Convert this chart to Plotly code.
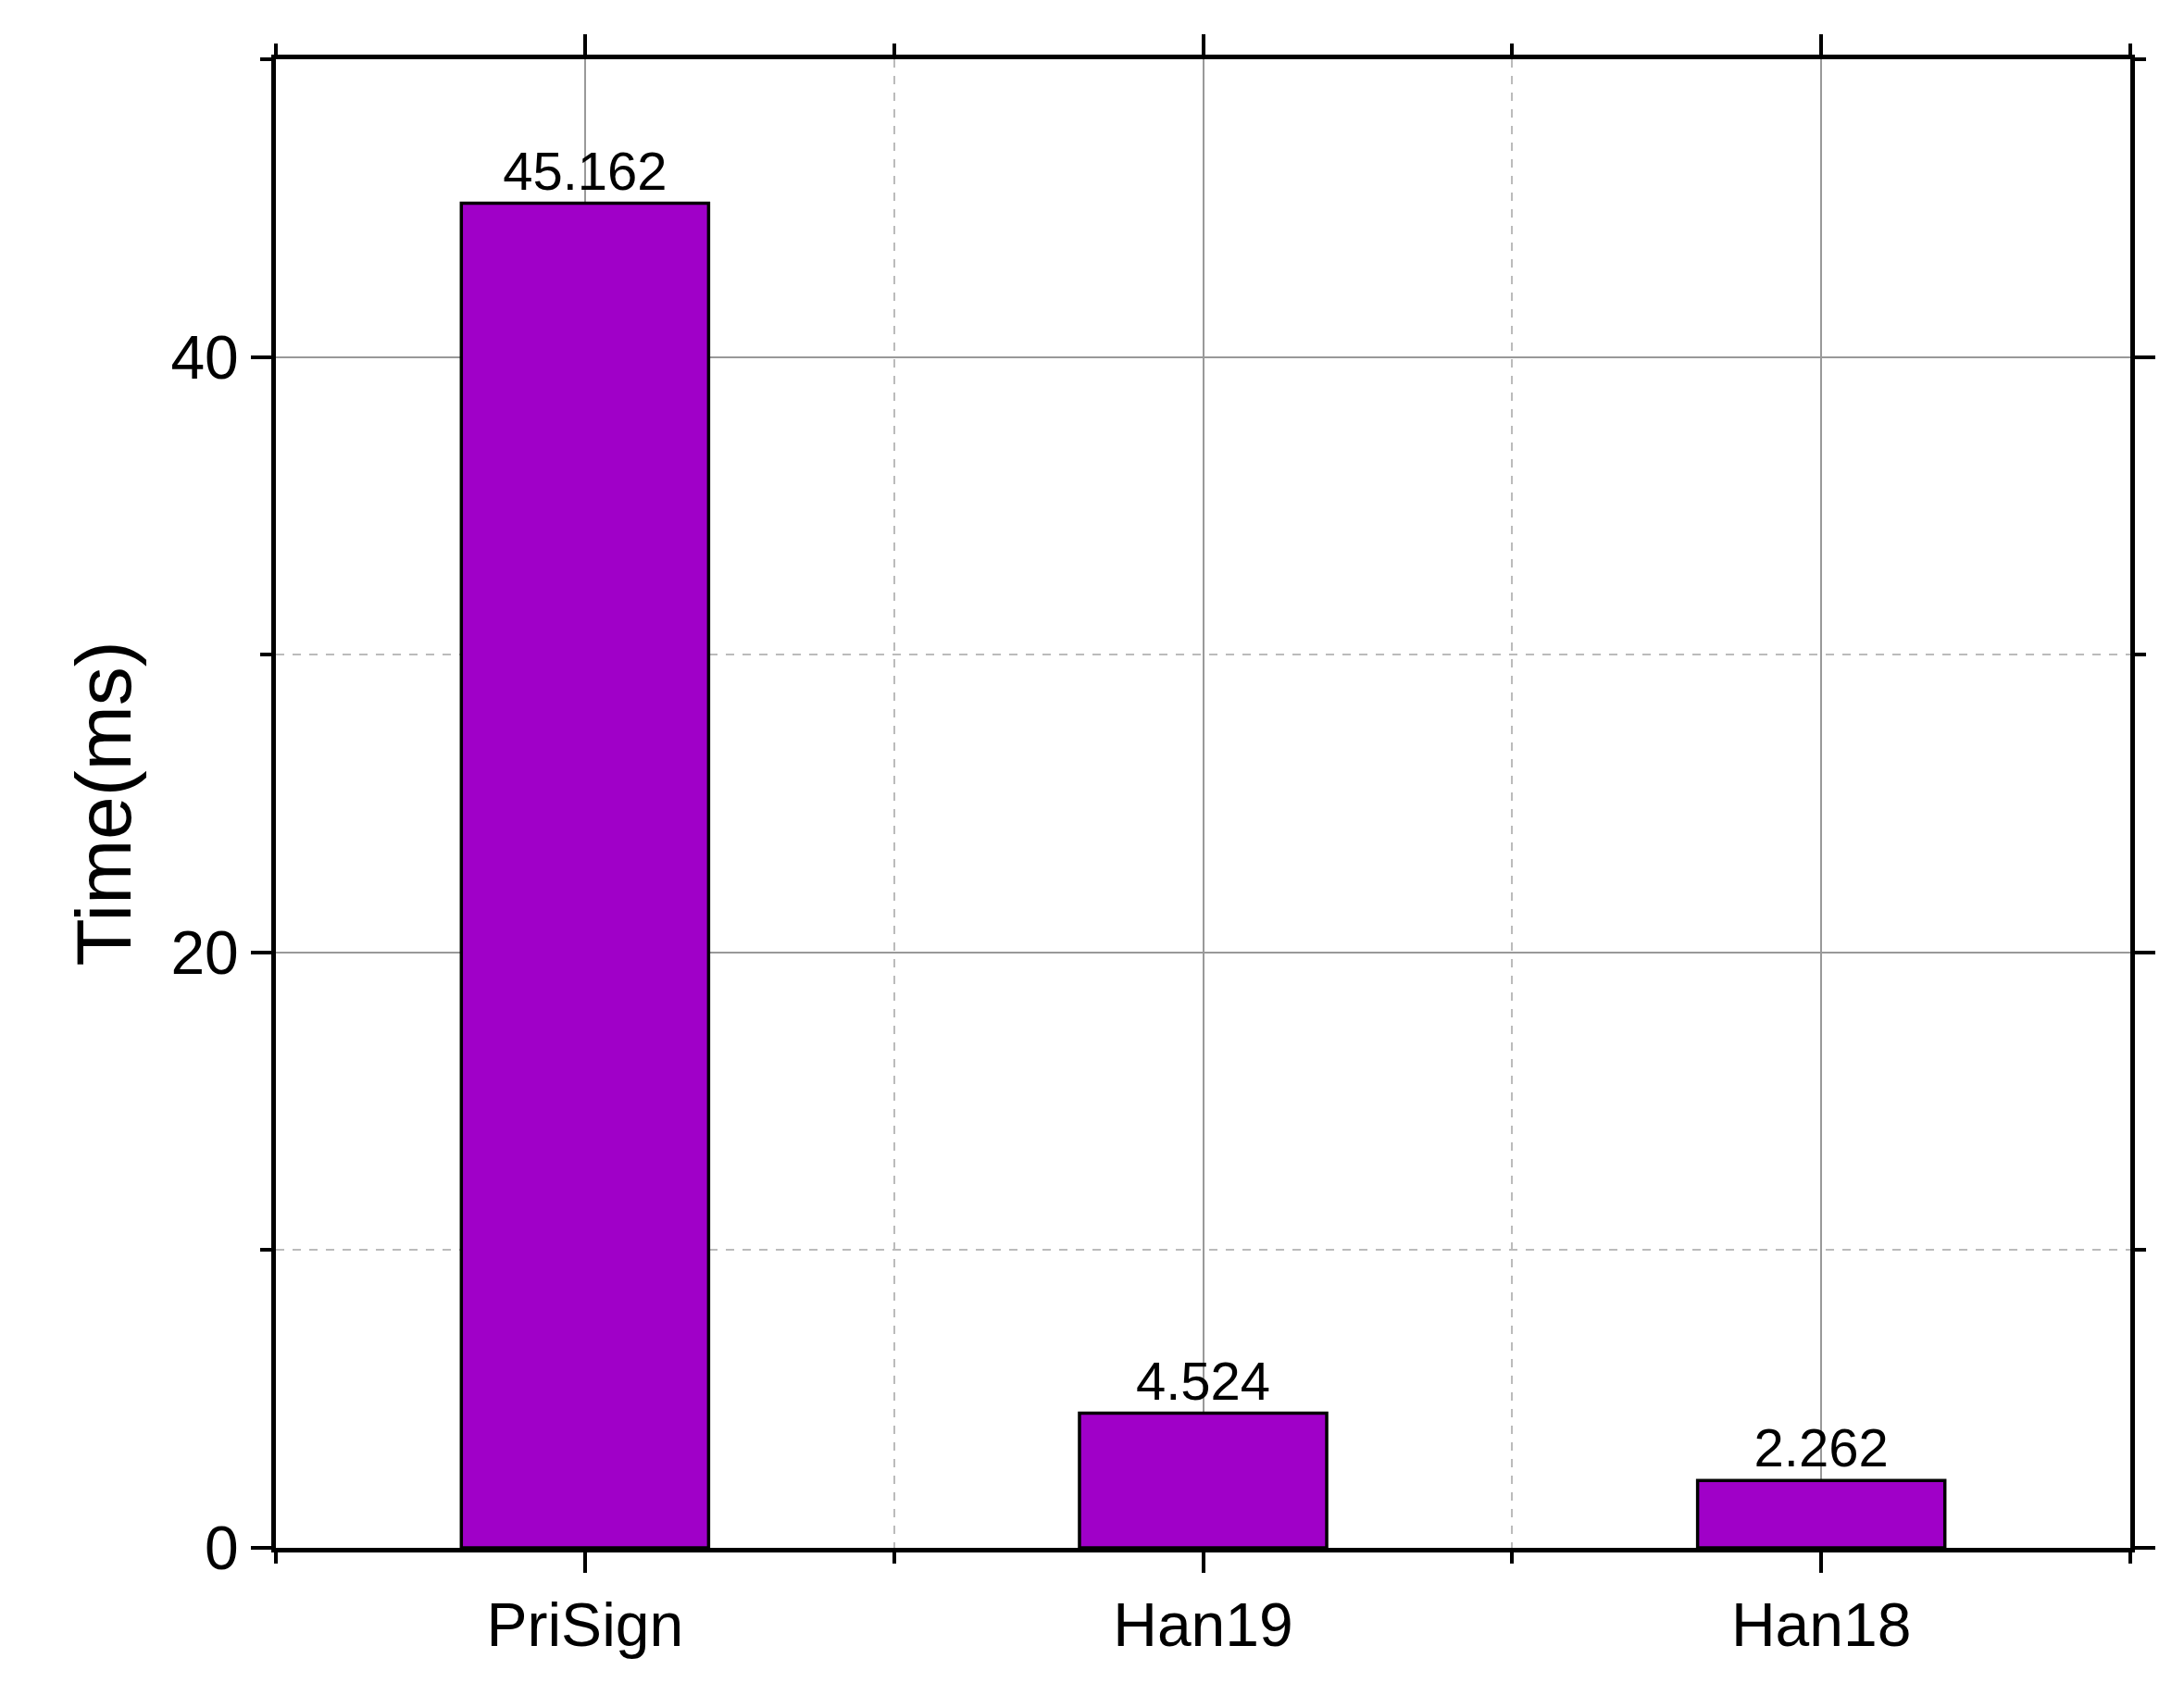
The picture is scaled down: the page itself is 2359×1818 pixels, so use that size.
import plotly.graph_objects as go

categories = ["PriSign", "Han19", "Han18"]
values = [45.162, 4.524, 2.262]
labels = ["45.162", "4.524", "2.262"]

xs = list(range(len(categories)))
fig = go.Figure(go.Bar(
    x=xs, y=values, width=0.4,
    marker=dict(color="#A000C8", line=dict(color="black", width=3.5)),
    text=labels, textposition="outside", cliponaxis=False,
    textfont=dict(size=58, color="black", family="Liberation Sans"),
))
axis_common = dict(showline=True, linecolor="black", linewidth=5, mirror="allticks",
                   ticks="outside", ticklen=22, tickwidth=4, tickcolor="black",
                   showgrid=True, gridcolor="#999999", gridwidth=1.5, zeroline=False,
                   tickfont=dict(size=66, color="black", family="Liberation Sans"))
fig.update_layout(
    width=2359, height=1818, paper_bgcolor="white", plot_bgcolor="white",
    margin=dict(l=290, r=66, t=56, b=154),
    showlegend=False,
    font=dict(family="Liberation Sans", color="black"),
    xaxis=dict(range=[-0.5, 2.5], tickvals=xs, ticktext=categories,
               minor=dict(dtick=0.5, tick0=0.5, ticks="outside", ticklen=12, tickwidth=4,
                          tickcolor="black", showgrid=True, gridcolor="#bbbbbb", griddash="dash"),
               **axis_common),
    yaxis=dict(range=[0, 50], tickvals=[0, 20, 40],
               title=dict(text="Time(ms)", font=dict(size=84, color="black"), standoff=16),
               minor=dict(dtick=10, ticks="outside", ticklen=12, tickwidth=4,
                          tickcolor="black", showgrid=True, gridcolor="#bbbbbb", griddash="dash"),
               **axis_common),
)
fig.write_html("out.html")
